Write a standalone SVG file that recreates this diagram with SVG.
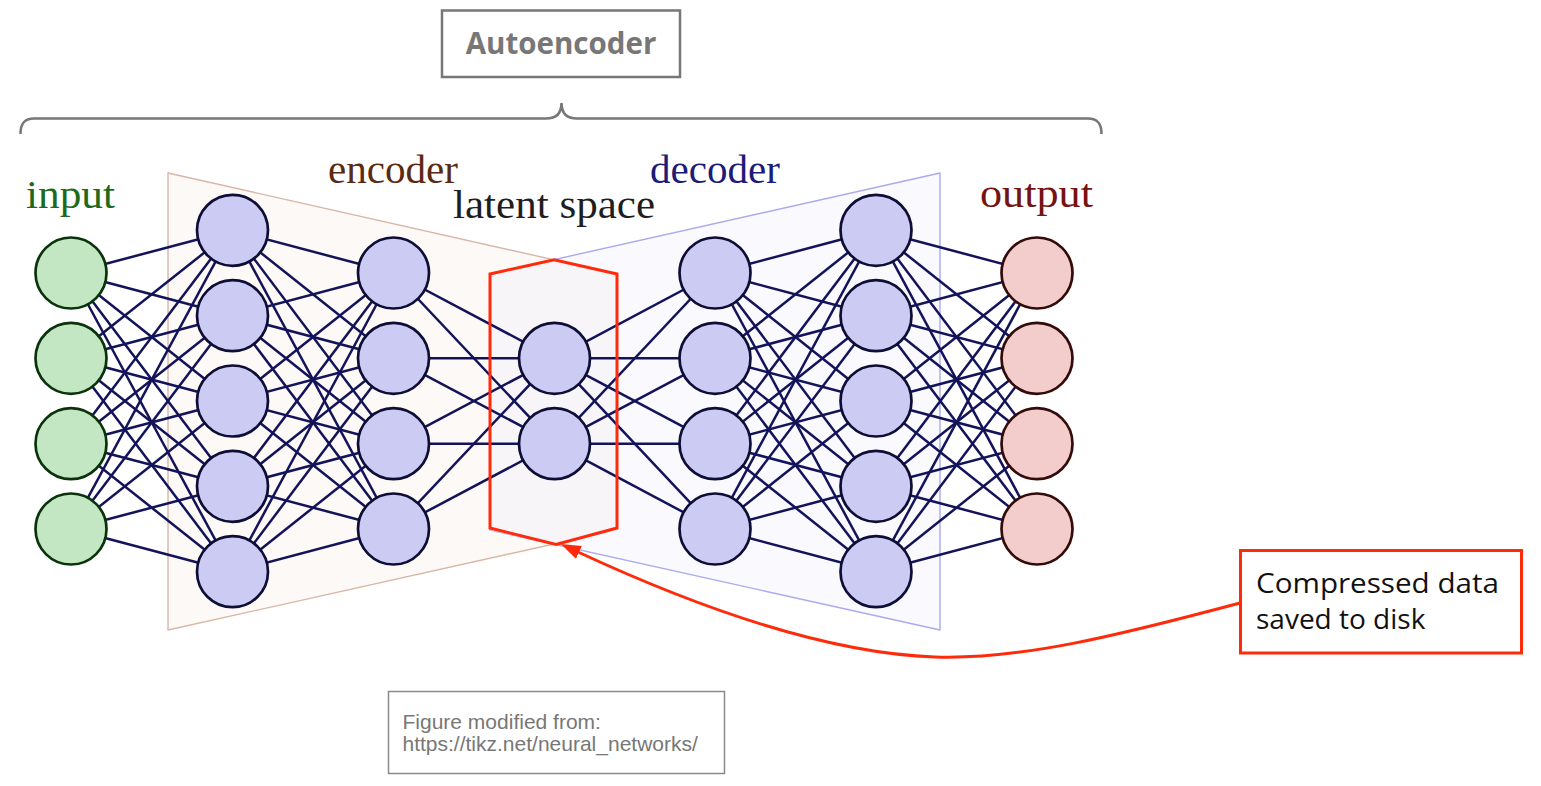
<svg xmlns="http://www.w3.org/2000/svg" width="1541" height="786" viewBox="0 0 1541 786">
<style>
.e{stroke:#13135a;stroke-width:2.5;fill:none}
.ni{fill:#c3e7c3;stroke:#0b330b;stroke-width:2.7}
.nh{fill:#cbcbf3;stroke:#0d0d35;stroke-width:2.7}
.no{fill:#f3cccc;stroke:#330b0b;stroke-width:2.7}
.lab{font-family:"Liberation Serif","Times New Roman",serif;font-size:41px}
.red{stroke:#ff2a0a;stroke-width:3;fill:none}
</style>
<defs>
<marker id="ah" markerUnits="userSpaceOnUse" markerWidth="22" markerHeight="16" refX="1" refY="7" orient="auto">
<path d="M0,0 L20,7 L0,14 z" fill="#ff2a0a"/>
</marker>
</defs>
<rect width="1541" height="786" fill="#ffffff"/>

<g id="autoencoder-title">
<rect x="442" y="10.5" width="238" height="66.5" fill="#ffffff" stroke="#777777" stroke-width="2.5"/>
<text x="561" y="53.5" text-anchor="middle" font-family="'Open Sans','Noto Sans',sans-serif" font-weight="bold" font-size="29.5" fill="#777777">Autoencoder</text>
</g>
<g id="brace">
<path d="M20.5,134 C20.5,124 24,118.5 34,118.5 L546,118.5 C556,118.5 561.5,114 561.5,103 C561.5,114 567,118.5 577,118.5 L1088,118.5 C1098,118.5 1101.5,124 1101.5,134" fill="none" stroke="#777777" stroke-width="2.6"/>
</g>

<g id="encoder-region">
<polygon points="168,173 617,274 617,530 168,630" fill="#fcf9f6" stroke="#d9b6a6" stroke-width="1.4" stroke-linejoin="round"/>
</g>
<g id="decoder-region">
<polygon points="940,173 490,274 490,530 940,630" fill="#f9f9fe" stroke="#aaaaec" stroke-width="1.4" stroke-linejoin="round"/>
</g>
<g id="latent-region-fill">
<polygon points="490,274 554,259.8 617,274 617,530 554,544 490,530" fill="#f7f5f8"/>
</g>

<g id="labels">
<text class="lab" x="26" y="208" fill="#1d6a1d" textLength="89" lengthAdjust="spacingAndGlyphs">input</text>
<text class="lab" x="328" y="183" fill="#5a2a12" textLength="130" lengthAdjust="spacingAndGlyphs">encoder</text>
<text class="lab" x="453" y="218" fill="#1e1e1e" textLength="202" lengthAdjust="spacingAndGlyphs">latent space</text>
<text class="lab" x="650" y="183" fill="#1c1c78" textLength="130" lengthAdjust="spacingAndGlyphs">decoder</text>
<text class="lab" x="980" y="207" fill="#761212" textLength="113" lengthAdjust="spacingAndGlyphs">output</text>
</g>

<g id="connectors">
<line class="e" x1="71" y1="273" x2="232.5" y2="230.3"/>
<line class="e" x1="71" y1="273" x2="232.5" y2="315.7"/>
<line class="e" x1="71" y1="273" x2="232.5" y2="401"/>
<line class="e" x1="71" y1="273" x2="232.5" y2="486.3"/>
<line class="e" x1="71" y1="273" x2="232.5" y2="571.7"/>
<line class="e" x1="71" y1="358.3" x2="232.5" y2="230.3"/>
<line class="e" x1="71" y1="358.3" x2="232.5" y2="315.7"/>
<line class="e" x1="71" y1="358.3" x2="232.5" y2="401"/>
<line class="e" x1="71" y1="358.3" x2="232.5" y2="486.3"/>
<line class="e" x1="71" y1="358.3" x2="232.5" y2="571.7"/>
<line class="e" x1="71" y1="443.7" x2="232.5" y2="230.3"/>
<line class="e" x1="71" y1="443.7" x2="232.5" y2="315.7"/>
<line class="e" x1="71" y1="443.7" x2="232.5" y2="401"/>
<line class="e" x1="71" y1="443.7" x2="232.5" y2="486.3"/>
<line class="e" x1="71" y1="443.7" x2="232.5" y2="571.7"/>
<line class="e" x1="71" y1="529" x2="232.5" y2="230.3"/>
<line class="e" x1="71" y1="529" x2="232.5" y2="315.7"/>
<line class="e" x1="71" y1="529" x2="232.5" y2="401"/>
<line class="e" x1="71" y1="529" x2="232.5" y2="486.3"/>
<line class="e" x1="71" y1="529" x2="232.5" y2="571.7"/>

<line class="e" x1="232.5" y1="230.3" x2="393.5" y2="273"/>
<line class="e" x1="232.5" y1="230.3" x2="393.5" y2="358.3"/>
<line class="e" x1="232.5" y1="230.3" x2="393.5" y2="443.7"/>
<line class="e" x1="232.5" y1="230.3" x2="393.5" y2="529"/>
<line class="e" x1="232.5" y1="315.7" x2="393.5" y2="273"/>
<line class="e" x1="232.5" y1="315.7" x2="393.5" y2="358.3"/>
<line class="e" x1="232.5" y1="315.7" x2="393.5" y2="443.7"/>
<line class="e" x1="232.5" y1="315.7" x2="393.5" y2="529"/>
<line class="e" x1="232.5" y1="401" x2="393.5" y2="273"/>
<line class="e" x1="232.5" y1="401" x2="393.5" y2="358.3"/>
<line class="e" x1="232.5" y1="401" x2="393.5" y2="443.7"/>
<line class="e" x1="232.5" y1="401" x2="393.5" y2="529"/>
<line class="e" x1="232.5" y1="486.3" x2="393.5" y2="273"/>
<line class="e" x1="232.5" y1="486.3" x2="393.5" y2="358.3"/>
<line class="e" x1="232.5" y1="486.3" x2="393.5" y2="443.7"/>
<line class="e" x1="232.5" y1="486.3" x2="393.5" y2="529"/>
<line class="e" x1="232.5" y1="571.7" x2="393.5" y2="273"/>
<line class="e" x1="232.5" y1="571.7" x2="393.5" y2="358.3"/>
<line class="e" x1="232.5" y1="571.7" x2="393.5" y2="443.7"/>
<line class="e" x1="232.5" y1="571.7" x2="393.5" y2="529"/>

<line class="e" x1="393.5" y1="273" x2="554.5" y2="358.3"/>
<line class="e" x1="393.5" y1="273" x2="554.5" y2="443.7"/>
<line class="e" x1="393.5" y1="358.3" x2="554.5" y2="358.3"/>
<line class="e" x1="393.5" y1="358.3" x2="554.5" y2="443.7"/>
<line class="e" x1="393.5" y1="443.7" x2="554.5" y2="358.3"/>
<line class="e" x1="393.5" y1="443.7" x2="554.5" y2="443.7"/>
<line class="e" x1="393.5" y1="529" x2="554.5" y2="358.3"/>
<line class="e" x1="393.5" y1="529" x2="554.5" y2="443.7"/>

<line class="e" x1="554.5" y1="358.3" x2="715" y2="273"/>
<line class="e" x1="554.5" y1="358.3" x2="715" y2="358.3"/>
<line class="e" x1="554.5" y1="358.3" x2="715" y2="443.7"/>
<line class="e" x1="554.5" y1="358.3" x2="715" y2="529"/>
<line class="e" x1="554.5" y1="443.7" x2="715" y2="273"/>
<line class="e" x1="554.5" y1="443.7" x2="715" y2="358.3"/>
<line class="e" x1="554.5" y1="443.7" x2="715" y2="443.7"/>
<line class="e" x1="554.5" y1="443.7" x2="715" y2="529"/>

<line class="e" x1="715" y1="273" x2="876" y2="230.3"/>
<line class="e" x1="715" y1="273" x2="876" y2="315.7"/>
<line class="e" x1="715" y1="273" x2="876" y2="401"/>
<line class="e" x1="715" y1="273" x2="876" y2="486.3"/>
<line class="e" x1="715" y1="273" x2="876" y2="571.7"/>
<line class="e" x1="715" y1="358.3" x2="876" y2="230.3"/>
<line class="e" x1="715" y1="358.3" x2="876" y2="315.7"/>
<line class="e" x1="715" y1="358.3" x2="876" y2="401"/>
<line class="e" x1="715" y1="358.3" x2="876" y2="486.3"/>
<line class="e" x1="715" y1="358.3" x2="876" y2="571.7"/>
<line class="e" x1="715" y1="443.7" x2="876" y2="230.3"/>
<line class="e" x1="715" y1="443.7" x2="876" y2="315.7"/>
<line class="e" x1="715" y1="443.7" x2="876" y2="401"/>
<line class="e" x1="715" y1="443.7" x2="876" y2="486.3"/>
<line class="e" x1="715" y1="443.7" x2="876" y2="571.7"/>
<line class="e" x1="715" y1="529" x2="876" y2="230.3"/>
<line class="e" x1="715" y1="529" x2="876" y2="315.7"/>
<line class="e" x1="715" y1="529" x2="876" y2="401"/>
<line class="e" x1="715" y1="529" x2="876" y2="486.3"/>
<line class="e" x1="715" y1="529" x2="876" y2="571.7"/>

<line class="e" x1="876" y1="230.3" x2="1037" y2="273"/>
<line class="e" x1="876" y1="230.3" x2="1037" y2="358.3"/>
<line class="e" x1="876" y1="230.3" x2="1037" y2="443.7"/>
<line class="e" x1="876" y1="230.3" x2="1037" y2="529"/>
<line class="e" x1="876" y1="315.7" x2="1037" y2="273"/>
<line class="e" x1="876" y1="315.7" x2="1037" y2="358.3"/>
<line class="e" x1="876" y1="315.7" x2="1037" y2="443.7"/>
<line class="e" x1="876" y1="315.7" x2="1037" y2="529"/>
<line class="e" x1="876" y1="401" x2="1037" y2="273"/>
<line class="e" x1="876" y1="401" x2="1037" y2="358.3"/>
<line class="e" x1="876" y1="401" x2="1037" y2="443.7"/>
<line class="e" x1="876" y1="401" x2="1037" y2="529"/>
<line class="e" x1="876" y1="486.3" x2="1037" y2="273"/>
<line class="e" x1="876" y1="486.3" x2="1037" y2="358.3"/>
<line class="e" x1="876" y1="486.3" x2="1037" y2="443.7"/>
<line class="e" x1="876" y1="486.3" x2="1037" y2="529"/>
<line class="e" x1="876" y1="571.7" x2="1037" y2="273"/>
<line class="e" x1="876" y1="571.7" x2="1037" y2="358.3"/>
<line class="e" x1="876" y1="571.7" x2="1037" y2="443.7"/>
<line class="e" x1="876" y1="571.7" x2="1037" y2="529"/>
</g>

<g id="input-layer">
<circle id="in1" class="ni" cx="71" cy="273" r="35.5"/>
<circle id="in2" class="ni" cx="71" cy="358.3" r="35.5"/>
<circle id="in3" class="ni" cx="71" cy="443.7" r="35.5"/>
<circle id="in4" class="ni" cx="71" cy="529" r="35.5"/>
</g>
<g id="hidden-layer-1">
<circle id="h1a" class="nh" cx="232.5" cy="230.3" r="35.5"/>
<circle id="h1b" class="nh" cx="232.5" cy="315.7" r="35.5"/>
<circle id="h1c" class="nh" cx="232.5" cy="401" r="35.5"/>
<circle id="h1d" class="nh" cx="232.5" cy="486.3" r="35.5"/>
<circle id="h1e" class="nh" cx="232.5" cy="571.7" r="35.5"/>
</g>
<g id="hidden-layer-2">
<circle id="h2a" class="nh" cx="393.5" cy="273" r="35.5"/>
<circle id="h2b" class="nh" cx="393.5" cy="358.3" r="35.5"/>
<circle id="h2c" class="nh" cx="393.5" cy="443.7" r="35.5"/>
<circle id="h2d" class="nh" cx="393.5" cy="529" r="35.5"/>
</g>
<g id="latent-layer">
<circle id="z1" class="nh" cx="554.5" cy="358.3" r="35.5"/>
<circle id="z2" class="nh" cx="554.5" cy="443.7" r="35.5"/>
</g>
<g id="hidden-layer-3">
<circle id="h3a" class="nh" cx="715" cy="273" r="35.5"/>
<circle id="h3b" class="nh" cx="715" cy="358.3" r="35.5"/>
<circle id="h3c" class="nh" cx="715" cy="443.7" r="35.5"/>
<circle id="h3d" class="nh" cx="715" cy="529" r="35.5"/>
</g>
<g id="hidden-layer-4">
<circle id="h4a" class="nh" cx="876" cy="230.3" r="35.5"/>
<circle id="h4b" class="nh" cx="876" cy="315.7" r="35.5"/>
<circle id="h4c" class="nh" cx="876" cy="401" r="35.5"/>
<circle id="h4d" class="nh" cx="876" cy="486.3" r="35.5"/>
<circle id="h4e" class="nh" cx="876" cy="571.7" r="35.5"/>
</g>
<g id="output-layer">
<circle id="out1" class="no" cx="1037" cy="273" r="35.5"/>
<circle id="out2" class="no" cx="1037" cy="358.3" r="35.5"/>
<circle id="out3" class="no" cx="1037" cy="443.7" r="35.5"/>
<circle id="out4" class="no" cx="1037" cy="529" r="35.5"/>
</g>

<g id="latent-highlight">
<polygon class="red" points="490,274 554,259.8 617,274 617,528 556,544.5 490,528" stroke-linejoin="miter"/>
</g>

<g id="callout-arrow">
<path class="red" d="M1240,603 C1120,635 1020,660 935,657 C820,653 690,604 578,552" marker-end="url(#ah)"/>
</g>
<g id="callout">
<rect x="1240.5" y="550.5" width="281" height="102.5" fill="#ffffff" stroke="#ff2a0a" stroke-width="3"/>
<text x="1256" y="592.5" font-family="'Open Sans','Noto Sans',sans-serif" font-size="28" fill="#111111" textLength="243" lengthAdjust="spacingAndGlyphs">Compressed data</text>
<text x="1256" y="628.5" font-family="'Open Sans','Noto Sans',sans-serif" font-size="28" fill="#111111">saved to disk</text>
</g>

<g id="caption">
<rect x="388.5" y="691.5" width="336" height="82" fill="#ffffff" stroke="#8a8a8a" stroke-width="1.5"/>
<text font-family="'Liberation Sans',Arial,sans-serif" font-size="21" fill="#777777"><tspan x="402.5" y="729">Figure modified from:</tspan><tspan x="402.5" y="751">https://tikz.net/neural_networks/</tspan></text>
</g>
</svg>
